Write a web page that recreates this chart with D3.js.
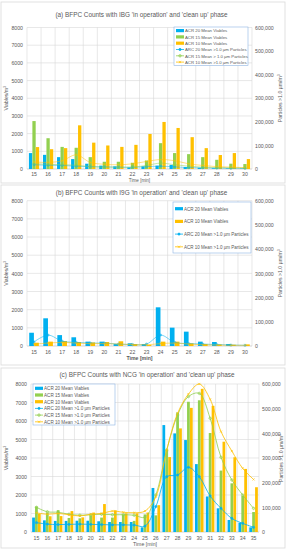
<!DOCTYPE html>
<html>
<head>
<meta charset="utf-8">
<script src="https://cdn.jsdelivr.net/npm/d3@7"></script>
<style>
body { margin: 0; background: #fff; }
text { font-family: "Liberation Sans", Arial, sans-serif; fill: #595959; }
</style>
</head>
<body>
<svg id="chart" width="286" height="550"></svg>
<script>
// minutes on the x axis
const minutesAB = [15, 16, 17, 18, 19, 20, 21, 22, 23, 24, 25, 26, 27, 28, 29, 30];
const minutesC = [15, 16, 17, 18, 19, 20, 21, 22, 23, 24, 25, 26, 27, 28, 29, 30, 31, 32, 33, 34, 35];

const leftTicks = [0, 1000, 2000, 3000, 4000, 5000, 6000, 7000, 8000];
const rightTicks = [0, 100000, 200000, 300000, 400000, 500000, 600000];

// (a) IBG
const aViables20 = [900, 800, 670, 560, 300, 190, 150, 90, 150, 190, 230, 110, 70, 40, 30, 20];
const aViables15 = [2710, 1740, 1250, 1200, 670, 410, 410, 350, 480, 1460, 900, 840, 670, 520, 300, 280];
const aViables10 = [1240, 1120, 1180, 2470, 1490, 1330, 1250, 1365, 1980, 2660, 2320, 1800, 1180, 790, 900, 560];
const aParticles20 = [18000, 16000, 15000, 12000, 10000, 9000, 8000, 7000, 10000, 12000, 9000, 6000, 5000, 4000, 3000, 3000];
const aParticles15 = [22000, 20000, 18000, 16000, 10000, 8000, 8000, 8000, 15000, 25000, 18000, 12000, 8000, 6000, 5000, 4000];
const aParticles10 = [30000, 28000, 35000, 60000, 28000, 20000, 18000, 22000, 32000, 40000, 35000, 22000, 15000, 10000, 8000, 6000];

// (b) I9G
const bViables20 = [730, 1525, 600, 480, 240, 240, 110, 150, 110, 2130, 1010, 790, 240, 220, 110, 0];
const bViables10 = [180, 240, 275, 220, 200, 220, 260, 110, 60, 240, 240, 150, 110, 90, 70, 90];
const bParticles20 = [17000, 45000, 20000, 15000, 12000, 12000, 8000, 6000, 8000, 45000, 15000, 10000, 8000, 6000, 4000, 3000];
const bParticles10 = [8000, 12000, 15000, 12000, 10000, 10000, 8000, 6000, 5000, 10000, 12000, 8000, 5000, 4000, 3000, 3000];

// (c) NCG
const cViables20 = [780, 630, 600, 600, 610, 610, 580, 540, 540, 540, 250, 2380, 5780, 5330, 4970, 3670, 1920, 1280, 650, 500, 250];
const cViables15 = [1380, 1050, 1180, 760, 740, 900, 780, 780, 950, 600, 950, 900, 4450, 6460, 7040, 7120, 5350, 3320, 2630, 1950, 1080];
const cViables10 = [990, 850, 860, 1130, 790, 1050, 1510, 1170, 1010, 1010, 1050, 1450, 4050, 5600, 6710, 7740, 6820, 4880, 4040, 3410, 2420];
const cParticles20 = [38000, 32000, 30000, 31000, 32000, 31000, 30000, 29000, 29000, 28000, 24000, 103000, 224000, 231000, 262000, 224000, 146000, 96000, 55000, 35000, 19000];
const cParticles15 = [100000, 82000, 80000, 72000, 68000, 70000, 72000, 70000, 70000, 68000, 60000, 150000, 332000, 474000, 549000, 562000, 461000, 303000, 211000, 150000, 96000];
const cParticles10 = [78000, 72000, 75000, 70000, 65000, 72000, 75000, 85000, 80000, 78000, 85000, 143000, 332000, 481000, 559000, 600000, 538000, 407000, 328000, 258000, 213000];

const blue = "#00b0f0", green = "#92d050", orange = "#ffc000";
const gridColor = "#d9d9d9";

let svg = d3.select("#chart");

function drawPanel(cfg) {
    let g = svg.append("g");

    // chart area border
    g.append("rect")
        .attr("x", cfg.box[0]).attr("y", cfg.box[1])
        .attr("width", cfg.box[2]).attr("height", cfg.box[3])
        .attr("fill", "#fff").attr("stroke", gridColor).attr("stroke-width", 0.8);

    let x = d3.scaleBand().domain(cfg.minutes).range([cfg.x0, cfg.x1]);
    let y = d3.scaleLinear().domain([0, 8000]).range([cfg.y1, cfg.y0]);
    let y2 = d3.scaleLinear().domain([0, 600000]).range([cfg.y1, cfg.y0]);

    // gridlines
    g.append("g").selectAll("line").data(leftTicks).join("line")
        .attr("x1", cfg.x0).attr("x2", cfg.x1)
        .attr("y1", d => y(d)).attr("y2", d => y(d))
        .attr("stroke", gridColor).attr("stroke-width", 0.6);
    g.append("g").selectAll("line").data(cfg.minutes.concat(["end"])).join("line")
        .attr("x1", d => d === "end" ? cfg.x1 : x(d))
        .attr("x2", d => d === "end" ? cfg.x1 : x(d))
        .attr("y1", cfg.y0).attr("y2", cfg.y1)
        .attr("stroke", gridColor).attr("stroke-width", 0.6);

    // axes
    let left = g.append("g").attr("transform", `translate(${cfg.x0},0)`)
        .call(d3.axisLeft(y).tickValues(leftTicks).tickSize(0).tickPadding(4).tickFormat(d => d));
    let right = g.append("g").attr("transform", `translate(${cfg.x1},0)`)
        .call(d3.axisRight(y2).tickValues(rightTicks).tickSize(0).tickPadding(3).tickFormat(d3.format(",")));
    let bottom = g.append("g").attr("transform", `translate(0,${cfg.y1})`)
        .call(d3.axisBottom(x).tickSize(0).tickPadding(cfg.xPad));
    [left, right, bottom].forEach(a => {
        a.select(".domain").remove();
        a.selectAll("text").attr("font-size", 5.2).attr("fill", "#595959")
            .attr("font-family", "Liberation Sans, Arial, sans-serif");
    });
    bottom.append("line").attr("x1", cfg.x0).attr("x2", cfg.x1)
        .attr("stroke", gridColor).attr("stroke-width", 0.8);

    // bars
    let inner = d3.scaleBand().domain(d3.range(cfg.bars.length))
        .range([0, x.bandwidth()]).paddingOuter(cfg.outerPad).paddingInner(0.05);
    cfg.bars.forEach((s, k) => {
        g.append("g").selectAll("rect").data(s.values).join("rect")
            .attr("x", (d, i) => x(cfg.minutes[i]) + inner(k))
            .attr("width", inner.bandwidth())
            .attr("y", d => y(d))
            .attr("height", d => y(0) - y(d))
            .attr("fill", s.color);
    });

    // particle lines
    let line = d3.line()
        .x((d, i) => x(cfg.minutes[i]) + x.bandwidth() / 2)
        .y(d => y2(d))
        .curve(d3.curveCatmullRom.alpha(0.5));
    cfg.lines.forEach(s => {
        g.append("path").datum(s.values)
            .attr("d", line)
            .attr("fill", "none")
            .attr("stroke", s.color)
            .attr("stroke-opacity", cfg.lineOpacity)
            .attr("stroke-width", 0.9);
        g.append("g").selectAll("path").data(s.values).join("path")
            .attr("transform", (d, i) => `translate(${x(cfg.minutes[i]) + x.bandwidth() / 2},${y2(d)})`)
            .attr("d", d3.symbol().type(s.symbol).size(4))
            .attr("fill", s.symbol === d3.symbolCircle ? s.color : "none")
            .attr("stroke", s.color)
            .attr("stroke-width", 0.6)
            .attr("opacity", cfg.lineOpacity);
    });

    // title
    g.append("text")
        .attr("x", (cfg.x0 + cfg.x1) / 2 + 2).attr("y", cfg.titleY)
        .attr("text-anchor", "middle").attr("font-size", 6.4)
        .text(cfg.title);

    // axis titles
    g.append("text")
        .attr("transform", `translate(8,${(cfg.y0 + cfg.y1) / 2}) rotate(-90)`)
        .attr("text-anchor", "middle").attr("font-size", 5.2)
        .html("Viables/m<tspan dy='-2' font-size='3.5'>3</tspan>");
    g.append("text")
        .attr("transform", `translate(${cfg.rightTitleX},${(cfg.y0 + cfg.y1) / 2}) rotate(-90)`)
        .attr("text-anchor", "middle").attr("font-size", 5.2)
        .html("Particles &gt;1.0 µm/m<tspan dy='-2' font-size='3.5'>3</tspan>");
    g.append("text")
        .attr("x", (cfg.x0 + cfg.x1) / 2).attr("y", cfg.xTitleY)
        .attr("text-anchor", "middle").attr("font-size", cfg.xTitleSize)
        .attr("font-weight", cfg.xTitleBold ? "bold" : "normal")
        .text("Time [min]");

    // legend
    let lg = g.append("g");
    lg.append("rect")
        .attr("x", cfg.legend.x).attr("y", cfg.legend.y)
        .attr("width", cfg.legend.w).attr("height", cfg.legend.h)
        .attr("fill", "#fff").attr("stroke", "#8eb4e3").attr("stroke-width", 0.6);
    let items = cfg.bars.map(s => ({ kind: "bar", ...s })).concat(cfg.lines.map(s => ({ kind: "line", ...s })));
    items.forEach((it, i) => {
        let ly = cfg.legend.y + cfg.legend.first + i * cfg.legend.step;
        let lx = cfg.legend.x + 2;
        if (it.kind === "bar") {
            lg.append("rect").attr("x", lx).attr("y", ly - 1.6).attr("width", 8).attr("height", 3.2).attr("fill", it.color);
        } else {
            lg.append("line").attr("x1", lx).attr("x2", lx + 8).attr("y1", ly).attr("y2", ly)
                .attr("stroke", it.color).attr("stroke-width", 0.8);
            lg.append("path").attr("transform", `translate(${lx + 4},${ly})`)
                .attr("d", d3.symbol().type(it.symbol).size(4))
                .attr("fill", it.symbol === d3.symbolCircle ? it.color : "none")
                .attr("stroke", it.color).attr("stroke-width", 0.6);
        }
        lg.append("text").attr("x", lx + 9).attr("y", ly + 1.8)
            .attr("font-size", cfg.legend.font).text(it.label);
    });
}

drawPanel({
    box: [1, 2, 284, 181],
    minutes: minutesAB,
    x0: 27, x1: 252, y0: 27.5, y1: 169,
    titleY: 17, xPad: 3, xTitleY: 181.5, xTitleSize: 4.6, xTitleBold: false, rightTitleX: 282,
    title: "(a) BFPC Counts with IBG 'in operation' and 'clean up' phase",
    outerPad: 0.55, lineOpacity: 0.55,
    bars: [
        { label: "ACR 20 Mean Viables", values: aViables20, color: blue },
        { label: "ACR 15 Mean Viables", values: aViables15, color: green },
        { label: "ACR 10 Mean Viables", values: aViables10, color: orange }
    ],
    lines: [
        { label: "ARC 20 Mean >1.0 µm Particles", values: aParticles20, color: blue, symbol: d3.symbolCircle },
        { label: "ACR 15 Mean > 1.0 µm Particles", values: aParticles15, color: green, symbol: d3.symbolCross },
        { label: "ACR 10 Mean >1.0 µm Particles", values: aParticles10, color: orange, symbol: d3.symbolTimes }
    ],
    legend: { x: 174, y: 27, w: 74, h: 38.5, first: 3.6, step: 6.3, font: 4.3 }
});

drawPanel({
    box: [1, 185, 284, 180],
    minutes: minutesAB,
    x0: 27, x1: 252, y0: 200.7, y1: 346,
    titleY: 195, xPad: 4, xTitleY: 360, xTitleSize: 5.2, xTitleBold: true, rightTitleX: 282,
    title: "(b) BFPC Counts with I9G 'in operation' and 'clean up' phase",
    outerPad: 0.45, lineOpacity: 0.6,
    bars: [
        { label: "ACR 20 Mean Viables", values: bViables20, color: blue },
        { label: "ACR 10 Mean Viables", values: bViables10, color: orange }
    ],
    lines: [
        { label: "ARC 20 Mean >1.0 µm Particles", values: bParticles20, color: blue, symbol: d3.symbolCircle },
        { label: "ACR 10 Mean >1.0 µm Particles", values: bParticles10, color: orange, symbol: d3.symbolTimes }
    ],
    legend: { x: 173, y: 202, w: 78, h: 51, first: 6.7, step: 12.7, font: 4.5 }
});

drawPanel({
    box: [1, 368, 284, 180],
    minutes: minutesC,
    x0: 31, x1: 259, y0: 384, y1: 532,
    titleY: 377, xPad: 4, xTitleY: 546, xTitleSize: 5.2, xTitleBold: false, rightTitleX: 283,
    title: "(c) BFPC Counts with NCG 'in operation' and 'clean up' phase",
    outerPad: 0.4, lineOpacity: 0.9,
    bars: [
        { label: "ACR 20 Mean Viables", values: cViables20, color: blue },
        { label: "ACR 15 Mean Viables", values: cViables15, color: green },
        { label: "ACR 10 Mean Viables", values: cViables10, color: orange }
    ],
    lines: [
        { label: "ARC 20 Mean >1.0 µm Particles", values: cParticles20, color: blue, symbol: d3.symbolCircle },
        { label: "ACR 15 Mean >1.0 µm Particles", values: cParticles15, color: green, symbol: d3.symbolCross },
        { label: "ACR 10 Mean >1.0 µm Particles", values: cParticles10, color: orange, symbol: d3.symbolTimes }
    ],
    legend: { x: 33, y: 384, w: 82, h: 41, first: 4.3, step: 6.7, font: 4.6 }
});
</script>
</body>
</html>
